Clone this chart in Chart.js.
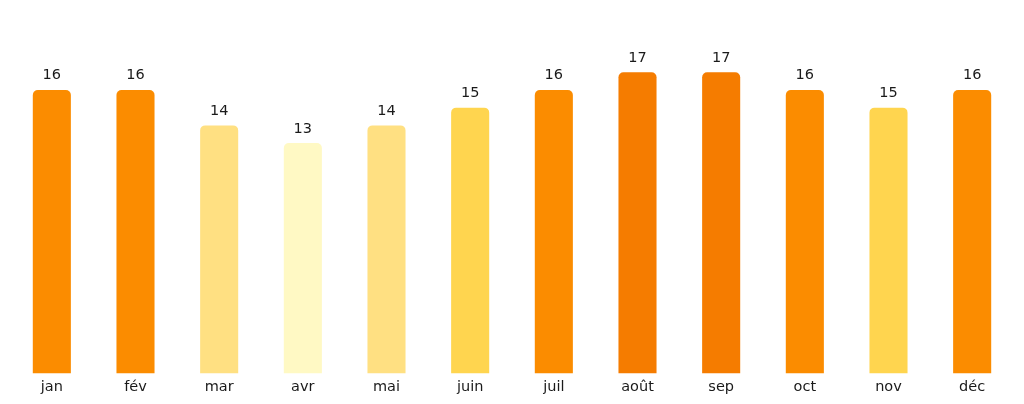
<!DOCTYPE html>
<html>
<head>
<meta charset="utf-8">
<script src="https://cdn.jsdelivr.net/npm/chart.js@4/dist/chart.umd.min.js"></script>
<style>
  html, body { margin: 0; padding: 0; background: #fff; }
  #wrap { width: 1024px; height: 404px; }
</style>
</head>
<body>
<div id="wrap"><canvas id="chart"></canvas></div>
<script>
const months = ['jan', 'fév', 'mar', 'avr', 'mai', 'juin', 'juil', 'août', 'sep', 'oct', 'nov', 'déc'];
const temps = [16, 16, 14, 13, 14, 15, 16, 17, 17, 16, 15, 16];

// colour by value, as in the reference
const palette = { 13: '#fff9c4', 14: '#ffe082', 15: '#ffd54f', 16: '#fb8c00', 17: '#f57c00' };
const barColors = temps.map(v => palette[v]);

// value labels above each bar
const valueLabels = {
    id: 'valueLabels',
    afterDatasetsDraw(chart) {
        const ctx = chart.ctx;
        const meta = chart.getDatasetMeta(0);
        ctx.save();
        ctx.fillStyle = '#1a1a1a';
        ctx.font = '14.5px "DejaVu Sans"';
        ctx.textAlign = 'center';
        ctx.textBaseline = 'bottom';
        meta.data.forEach((bar, i) => {
            ctx.fillText(String(temps[i]), bar.x, bar.y - 7);
        });
        ctx.restore();
    }
};

new Chart(document.getElementById('chart'), {
    type: 'bar',
    data: {
        labels: months,
        datasets: [{
            data: temps,
            backgroundColor: barColors,
            borderWidth: 0,
            borderSkipped: false,
            borderRadius: { topLeft: 5, topRight: 5, bottomLeft: 0, bottomRight: 0 },
            barPercentage: 0.455,
            categoryPercentage: 1,
        }],
    },
    options: {
        responsive: true,
        maintainAspectRatio: false,
        animation: false,
        layout: { padding: { left: 10, right: 10, top: 19, bottom: 3 } },
        plugins: {
            legend: { display: false },
            tooltip: { enabled: false },
        },
        scales: {
            x: {
                grid: { display: false, drawTicks: false },
                border: { display: false },
                ticks: {
                    color: '#1a1a1a',
                    font: { family: 'DejaVu Sans', size: 14.5 },
                    padding: 5,
                    maxRotation: 0,
                },
            },
            y: {
                display: false,
                min: 0,
                max: 20,
            },
        },
    },
    plugins: [valueLabels],
});
</script>
</body>
</html>
